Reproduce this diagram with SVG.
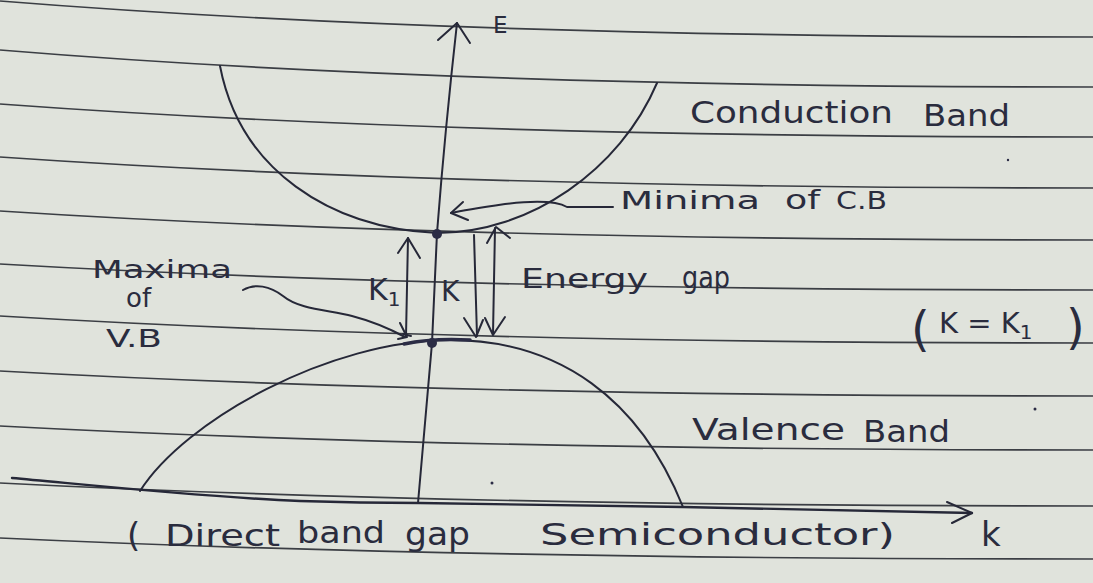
<svg xmlns="http://www.w3.org/2000/svg" width="1093" height="583" viewBox="0 0 1093 583">
  <defs>
    <style>
      .rule { fill: none; stroke: #3b3e44; stroke-width: 1.7; }
      .ink { fill: none; stroke: #262838; stroke-width: 2; stroke-linecap: round; stroke-linejoin: round; }
      .dot { fill: #2b2c45; }
      .txt { font-family: "DejaVu Sans", "Liberation Sans", sans-serif; fill: #2a2c3e; }
    </style>
  </defs>
  <rect width="1093" height="583" fill="#e0e3dc"/>

  <g id="ruled-lines">
    <path class="rule" d="M0,1 Q450,37 1093,37"/>
    <path class="rule" d="M0,50 Q450,87 1093,87"/>
    <path class="rule" d="M0,104 Q450,137 1093,137"/>
    <path class="rule" d="M0,157 Q450,188 1093,188"/>
    <path class="rule" d="M0,211 Q450,240 1093,240"/>
    <path class="rule" d="M0,264 Q450,290 1093,290"/>
    <path class="rule" d="M0,316 Q450,343 1093,343"/>
    <path class="rule" d="M0,371 Q450,396 1093,396"/>
    <path class="rule" d="M0,426 Q450,450 1093,450"/>
    <path class="rule" d="M0,483 Q450,506 1093,506"/>
    <path class="rule" d="M0,538 Q450,559 1093,559"/>
  </g>

  <g id="axes">
    <path class="ink" d="M418,503 L432,343 L437,233 Q445,130 457,23"/>
    <path class="ink" d="M438,40 L457,23 L470,43"/>
    <path class="ink" d="M12,478 C80,484 200,497 300,501 C360,503 400,503 420,503 L683,507 L972,513" style="stroke-width:2.4"/>
    <path class="ink" d="M947,502 L972,513 L952,523"/>
  </g>

  <g id="conduction-band">
    <path class="ink" d="M220,66 C240,170 330,228 437,233 C530,233 620,170 657,83"/>
  </g>

  <g id="valence-band">
    <path class="ink" d="M140,491 C185,420 330,340 450,340 C560,340 640,400 683,507"/>
  </g>

  <g id="points">
    <circle class="dot" cx="437" cy="234" r="5"/>
    <circle class="dot" cx="432" cy="343" r="5"/>
    <path d="M404,344 Q432,338 470,340" stroke="#2b2c45" stroke-width="3.5" fill="none" stroke-linecap="round"/>
  </g>

  <g id="connectors">
    <path class="ink" d="M406,336 L408,238"/>
    <path class="ink" d="M398,253 L408,238 L420,258"/>
    <path class="ink" d="M403,334 L411,336"/>
    <path class="ink" d="M474,235 L477,336"/>
    <path class="ink" d="M464,318 L476,337 L483,320"/>
    <path class="ink" d="M495,228 L493,334"/>
    <path class="ink" d="M487,243 L496,227 L510,238"/>
    <path class="ink" d="M485,318 L493,335 L505,317"/>
    <path class="ink" d="M613,207 L567,207 C555,200 530,201 505,204 C485,207 465,210 451,213"/>
    <path class="ink" d="M463,202 L451,213 L468,220"/>
    <path class="ink" d="M243,290 C255,283 270,286 283,296 C300,310 330,310 352,316 C375,322 392,330 405,337"/>
    <path class="ink" d="M400,323 L407,337 L398,339"/>
  </g>

  <g id="labels">
    <text class="txt" x="493" y="33" font-size="23">E</text>
    <g id="label-conduction-band">
      <text class="txt" x="690" y="123" font-size="30" textLength="203" lengthAdjust="spacingAndGlyphs">Conduction</text>
      <text class="txt" x="923" y="126" font-size="30" textLength="87" lengthAdjust="spacingAndGlyphs">Band</text>
    </g>
    <g id="label-minima">
      <text class="txt" x="620" y="209" font-size="25" textLength="140" lengthAdjust="spacingAndGlyphs">Minima</text>
      <text class="txt" x="785" y="209" font-size="27" textLength="35" lengthAdjust="spacingAndGlyphs">of</text>
      <text class="txt" x="836" y="209" font-size="25" textLength="51" lengthAdjust="spacingAndGlyphs">C.B</text>
    </g>
    <g id="label-maxima">
      <text class="txt" x="92" y="278" font-size="24" textLength="140" lengthAdjust="spacingAndGlyphs">Maxima</text>
      <text class="txt" x="126" y="307" font-size="26">of</text>
      <text class="txt" x="106" y="347" font-size="24" textLength="56" lengthAdjust="spacingAndGlyphs">V.B</text>
    </g>
    <text class="txt" x="368" y="300" font-size="30">K<tspan font-size="20" dy="6">1</tspan></text>
    <text class="txt" x="441" y="301" font-size="28">K</text>
    <g id="label-energy-gap">
      <text class="txt" x="521" y="288" font-size="26" textLength="127" lengthAdjust="spacingAndGlyphs">Energy</text>
      <text class="txt" x="682" y="288" font-size="30" textLength="48" lengthAdjust="spacingAndGlyphs">gap</text>
    </g>
    <g id="label-k-equals-k1">
      <text class="txt" x="911" y="346" font-size="48">(</text>
      <text class="txt" x="939" y="333" font-size="29">K = K<tspan font-size="20" dy="6">1</tspan></text>
      <text class="txt" x="1066" y="344" font-size="48">)</text>
    </g>
    <g id="label-valence-band">
      <text class="txt" x="692" y="440" font-size="31" textLength="153" lengthAdjust="spacingAndGlyphs">Valence</text>
      <text class="txt" x="863" y="442" font-size="31" textLength="87" lengthAdjust="spacingAndGlyphs">Band</text>
    </g>
    <g id="label-direct">
      <text class="txt" x="127" y="547" font-size="34">(</text>
      <text class="txt" x="165" y="546" font-size="30" textLength="115" lengthAdjust="spacingAndGlyphs">Direct</text>
      <text class="txt" x="297" y="543" font-size="30" textLength="88" lengthAdjust="spacingAndGlyphs">band</text>
      <text class="txt" x="405" y="545" font-size="32" textLength="65" lengthAdjust="spacingAndGlyphs">gap</text>
      <text class="txt" x="540" y="545" font-size="30" textLength="355" lengthAdjust="spacingAndGlyphs">Semiconductor)</text>
    </g>
    <text class="txt" x="981" y="546" font-size="34">k</text>
  </g>

  <g id="specks">
    <circle class="dot" cx="492" cy="483" r="1.5"/>
    <circle class="dot" cx="1035" cy="409" r="1.5"/>
    <circle class="dot" cx="1008" cy="160" r="1.2"/>
  </g>
</svg>
